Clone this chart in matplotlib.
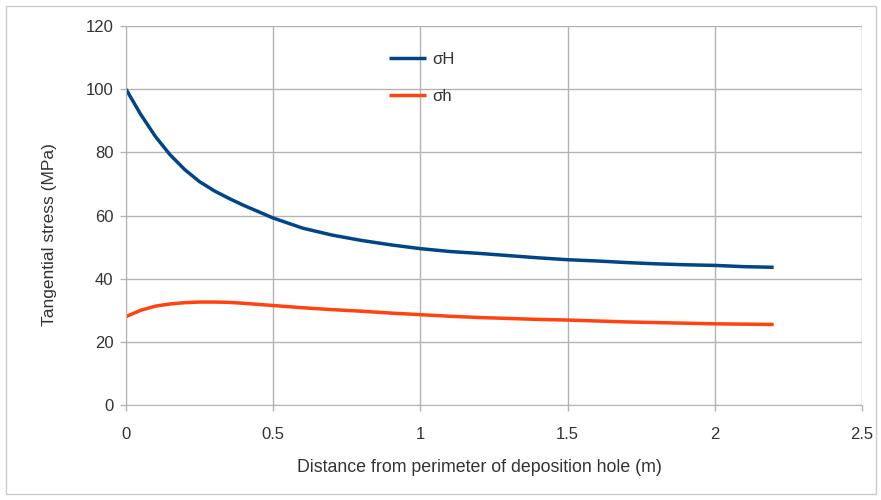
import matplotlib
matplotlib.use("Agg")
import matplotlib.pyplot as plt
from matplotlib.patches import Rectangle

distance = [0.0, 0.05, 0.1, 0.15, 0.2, 0.25, 0.3, 0.35, 0.4, 0.5, 0.6, 0.7, 0.8, 0.9, 1.0,
            1.1, 1.2, 1.3, 1.4, 1.5, 1.6, 1.7, 1.8, 1.9, 2.0, 2.1, 2.2]
sigma_H = [100.0, 92.0, 85.0, 79.2, 74.5, 70.7, 67.8, 65.4, 63.2, 59.2, 56.0, 53.8, 52.1, 50.7, 49.5,
           48.6, 48.0, 47.3, 46.6, 46.0, 45.6, 45.1, 44.7, 44.4, 44.2, 43.8, 43.6]
sigma_h = [28.0, 30.0, 31.3, 32.0, 32.4, 32.6, 32.6, 32.5, 32.2, 31.5, 30.8, 30.2, 29.7, 29.1, 28.6,
           28.1, 27.7, 27.4, 27.1, 26.9, 26.6, 26.3, 26.1, 25.9, 25.7, 25.6, 25.5]

x_ticks = [0, 0.5, 1, 1.5, 2, 2.5]
x_tick_labels = ["0", "0.5", "1", "1.5", "2", "2.5"]
y_ticks = [0, 20, 40, 60, 80, 100, 120]

plt.rcParams['font.family'] = ['Liberation Sans', 'DejaVu Sans']

fig = plt.figure(figsize=(8.81, 5.0), dpi=100)
ax = fig.add_axes([126/881, 1-405/500, (862-126)/881, (405-26)/500])

grid_c = '#b3b3b3'
ax.plot(distance, sigma_H, color='#004586', lw=2.5, label='σH', solid_capstyle='butt')
ax.plot(distance, sigma_h, color='#ff420e', lw=2.5, label='σh', solid_capstyle='butt')

ax.set_xlim(0, 2.5)
ax.set_ylim(0, 120)
ax.set_xticks(x_ticks)
ax.set_xticklabels(x_tick_labels)
ax.set_yticks(y_ticks)
ax.grid(True, color=grid_c, lw=1)
ax.set_axisbelow(True)
for s in ['top', 'right']:
    ax.spines[s].set_visible(False)
for s in ['left', 'bottom']:
    ax.spines[s].set_color(grid_c)
ax.tick_params(axis='both', colors=grid_c, labelcolor='#333333', labelsize=12, length=4, width=1)
ax.tick_params(axis='x', pad=12)
ax.tick_params(axis='y', pad=5)

ax.set_xlabel('Distance from perimeter of deposition hole (m)', fontsize=12.8, color='#333333', labelpad=12)
ax.xaxis.set_label_coords(0.48, -0.142)
ax.set_ylabel('Tangential stress (MPa)', fontsize=12.5, color='#333333', labelpad=20)
ax.yaxis.set_label_coords(-0.094, 0.45)

leg = ax.legend(loc='upper left', bbox_to_anchor=(0.337, 0.972), frameon=False, fontsize=12,
                handlelength=2.2, labelspacing=1.35, handletextpad=0.4)
for t in leg.get_texts():
    t.set_color('#333333')

fig.patches.append(Rectangle((6/881, 6/500), 870/881, 488/500, transform=fig.transFigure,
                             fill=False, edgecolor='#cccccc', lw=1))

fig.savefig('out.png', dpi=100)
